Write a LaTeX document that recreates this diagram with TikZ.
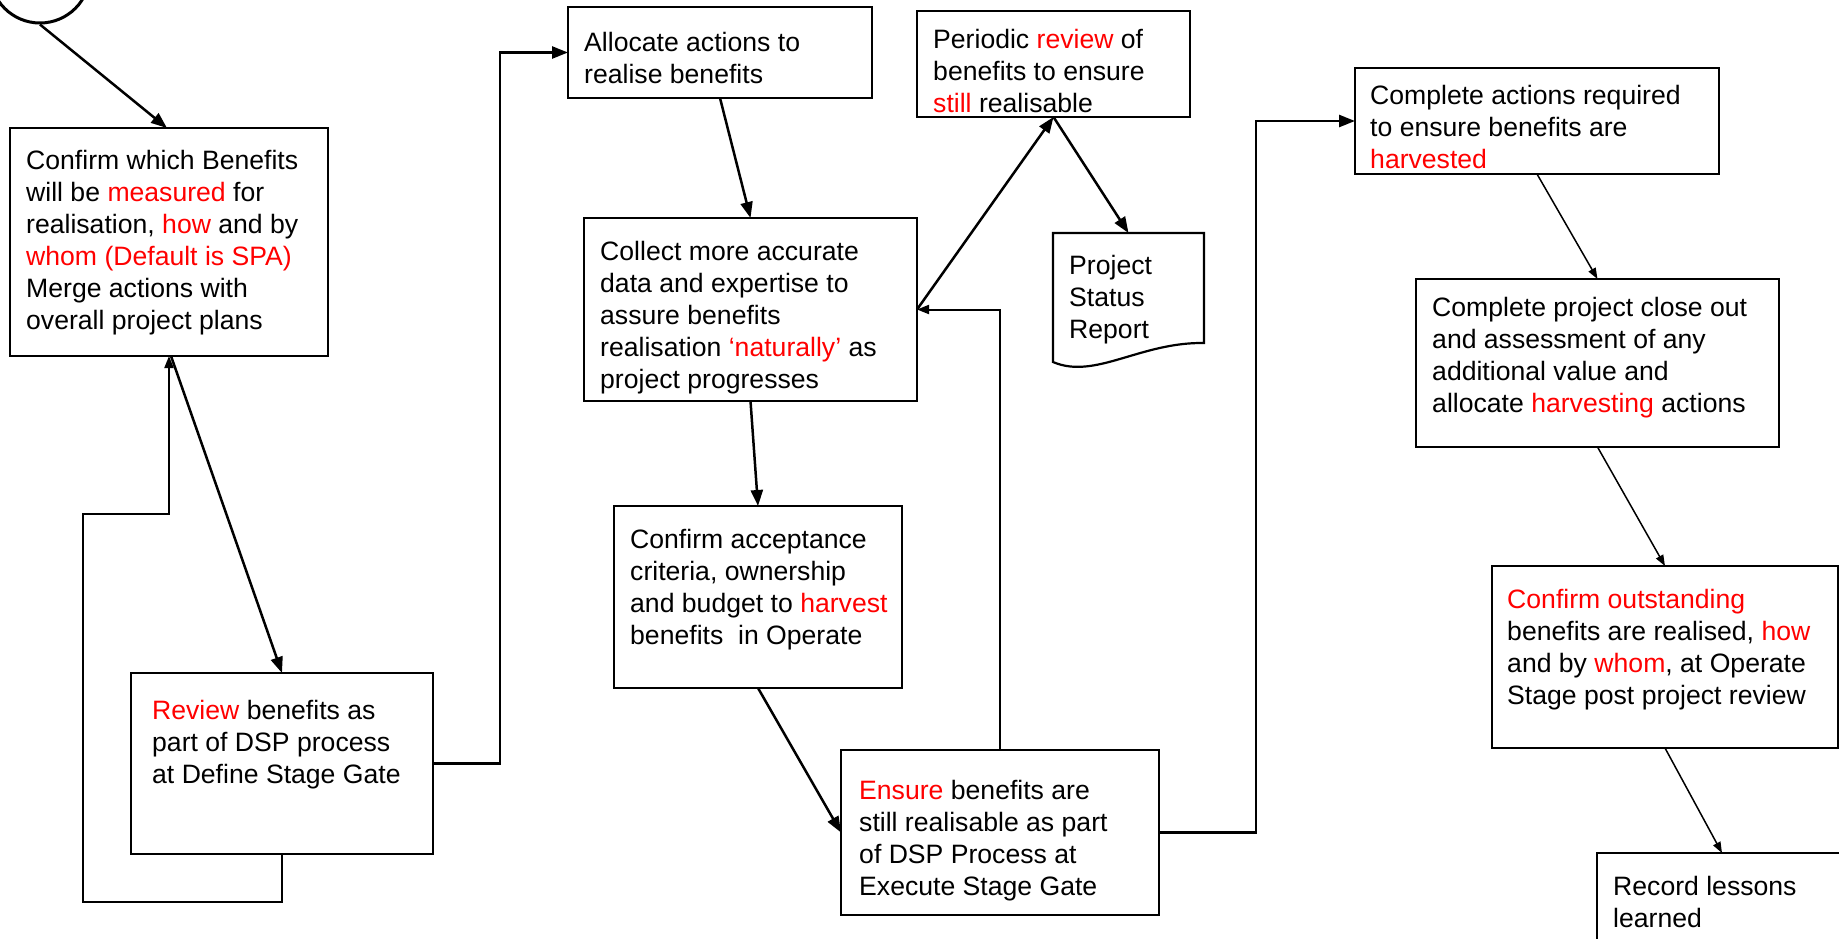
\documentclass[tikz,border=0pt]{standalone}
\usepackage{fontspec}
\setmainfont{Liberation Sans}
\usetikzlibrary{arrows.meta}
\newcommand\redword[1]{\textcolor{red}{#1}}

\tikzset{
  flowbox/.style={draw, rectangle, line width=2.7pt, inner sep=0pt, outer sep=0pt},
  boxtext/.style={anchor=north west, align=left, inner sep=0pt, yshift=-4pt,
    font=\fontsize{26.6}{32}\selectfont, execute at begin node=\strut},
  link/.style={line width=2.5pt, -{Triangle[length=16pt,width=12pt]}},
  thinlink/.style={line width=1.5pt, -{Triangle[length=11pt,width=8pt]}},
  backlink/.style={line width=2pt, -{Triangle[length=12pt,width=9pt]}},
}

\begin{document}
\begin{tikzpicture}[x=1pt,y=-1pt]
\useasboundingbox (0,0) rectangle (1839,938);
\clip (0,0) rectangle (1839,938);
\fill[white] (0,0) rectangle (1839,938);

% start terminal
\node[draw, circle, line width=3pt, minimum size=100pt, inner sep=0pt] (start) at (40,-27) {};

% process boxes
\node[flowbox, minimum width=318pt, minimum height=228pt] (b1)  at (169,242) {};
\node[flowbox, minimum width=302pt, minimum height=181pt] (rev) at (282,763.5) {};
\node[flowbox, minimum width=304pt, minimum height=91pt]  (all) at (720,52.5) {};
\node[flowbox, minimum width=333pt, minimum height=183pt] (col) at (750.5,309.5) {};
\node[flowbox, minimum width=288pt, minimum height=182pt] (acc) at (758,597) {};
\node[flowbox, minimum width=318pt, minimum height=165pt] (ens) at (1000,832.5) {};
\node[flowbox, minimum width=273pt, minimum height=106pt] (per) at (1053.5,64) {};
\node[flowbox, minimum width=364pt, minimum height=106pt] (ca)  at (1537,121) {};
\node[flowbox, minimum width=363pt, minimum height=168pt] (cp)  at (1597.5,363) {};
\node[flowbox, minimum width=346pt, minimum height=182pt] (co)  at (1665,657) {};
\node[flowbox, minimum width=250pt, minimum height=107pt] (rec) at (1722,906.5) {};

% document shape for the status report
\node[inner sep=0pt, outer sep=0pt, minimum width=151pt, minimum height=129pt] (prs) at (1128.5,297.5) {};
\draw[line width=2.2pt, line join=miter]
  (prs.north west) -- (prs.north east) -- ([yshift=19pt]prs.south east)
  .. controls ([xshift=-64pt,yshift=20pt]prs.south east) and ([xshift=42pt,yshift=-18pt]prs.south west)
  .. (prs.south west) -- cycle;

% box texts
\node[boxtext] (b1t) at (26,145.6) {Confirm which Benefits\\
  will be \redword{measured} for\\
  realisation, \redword{how} and by\\
  \redword{whom (Default is SPA)}\\
  Merge actions with\\
  overall project plans};
\node[boxtext] (revt) at (152,695.6) {\redword{Review} benefits as\\
  part of DSP process\\
  at Define Stage Gate};
\node[boxtext] (allt) at (584,27.6) {Allocate actions to\\
  realise benefits};
\node[boxtext] (colt) at (600,236.6) {Collect more accurate\\
  data and expertise to\\
  assure benefits\\
  realisation \redword{‘naturally’} as\\
  project progresses};
\node[boxtext] (acct) at (630,524.6) {Confirm acceptance\\
  criteria, ownership\\
  and budget to \redword{harvest}\\
  benefits\ \ in Operate};
\node[boxtext] (enst) at (859,775.6) {\redword{Ensure} benefits are\\
  still realisable as part\\
  of DSP Process at\\
  Execute Stage Gate};
\node[boxtext] (pert) at (933,24.6) {Periodic \redword{review} of\\
  benefits to ensure\\
  \redword{still} realisable};
\node[boxtext] (prst) at (1069,250.6) {Project\\
  Status\\
  Report};
\node[boxtext] (cat) at (1370,80.6) {Complete actions required\\
  to ensure benefits are\\
  \redword{harvested}};
\node[boxtext] (cpt) at (1432,292.6) {Complete project close out\\
  and assessment of any\\
  additional value and\\
  allocate \redword{harvesting} actions};
\node[boxtext] (cot) at (1507,584.6) {\redword{Confirm outstanding}\\
  benefits are realised, \redword{how}\\
  and by \redword{whom}, at Operate\\
  Stage post project review};
\node[boxtext] (rect) at (1613,871.6) {Record lessons\\
  learned};

% connectors
\draw[link] (start.south) -- ([xshift=-2pt]b1.north);
\draw[link] ([xshift=2pt]b1.south) -- (rev.north);
\draw[backlink] (rev.south) -- ++(0,48) -| (83,514) -| (b1.south);
\draw[link] (rev.east) -- ++(67,0) |- (all.west);
\draw[link] (all.south) -- (col.north);
\draw[link] (col.south) -- (acc.north);
\draw[link] (acc.south) -- (ens.west);
\draw[backlink] (ens.north) |- (col.east);
\draw[link] (col.east) -- (per.south);
\draw[link] (per.south) -- (prs.north);
\draw[link] (ens.east) -- ++(97,0) |- (ca.west);
\draw[thinlink] (ca.south) -- (cp.north);
\draw[thinlink] (cp.south) -- (co.north);
\draw[thinlink] (co.south) -- (rec.north);
\end{tikzpicture}
\end{document}
